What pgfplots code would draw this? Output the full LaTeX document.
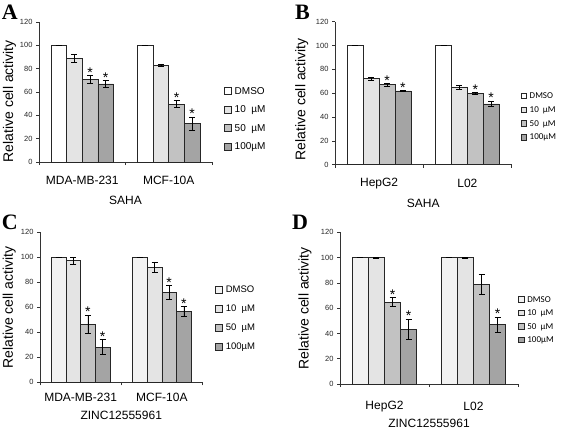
\documentclass[border=0pt]{standalone}
\usepackage{fontspec}
\setmainfont{Liberation Sans}
\newfontfamily\serifb{Liberation Serif}
\newfontfamily\calib{Carlito}
\usepackage{pgfplots}
\pgfplotsset{compat=1.18}
\usepackage{pgfplotstable}

% columns: group, then value / error / significance mark for DMSO, 10uM, 50uM, 100uM
\pgfplotstableread{
g y0 e0 s0 y1 e1 s1 y2 e2 s2 y3 e3 s3
0 100 0.3 ~ 89.0 3.3 ~ 70.8 3.3 * 67.0 2.9 *
1 100 0.3 ~ 82.7 0.8 ~ 49.5 3.0 * 33.0 5.5 *
}\dataA
\pgfplotstableread{
g y0 e0 s0 y1 e1 s1 y2 e2 s2 y3 e3 s3
0 100 0 ~ 72.2 1.4 ~ 67.2 1.0 * 62.0 0.3 *
1 100 0 ~ 65.3 1.7 ~ 59.8 0.8 * 51.0 2.3 *
}\dataB
\pgfplotstableread{
g y0 e0 s0 y1 e1 s1 y2 e2 s2 y3 e3 s3
0 100 0.3 ~ 97.3 2.5 ~ 46.5 7.3 * 28.2 6.0 *
1 100 0.3 ~ 92.0 3.8 ~ 71.8 5.6 * 56.6 4.0 *
}\dataC
\pgfplotstableread{
g y0 e0 s0 y1 e1 s1 y2 e2 s2 y3 e3 s3
0 100 0 ~ 100 0.3 ~ 64.9 3.4 * 43.5 7.8 *
1 100 0 ~ 100 0.3 ~ 78.6 7.9 ~ 47.1 5.8 *
}\dataD

\definecolor{cA}{HTML}{FFFFFF}
\definecolor{cA2}{HTML}{F2F2F2}
\definecolor{cB}{HTML}{E4E4E4}
\definecolor{cC}{HTML}{C2C2C2}
\definecolor{cD}{HTML}{A4A4A4}

\pgfplotsset{
  panel/.style={
    scale only axis, anchor=south west,
    xmin=-0.5, xmax=1.5, ymin=0, ymax=120, enlargelimits=false,
    ytick={0,20,...,120},
    xtick={-0.5,0.5,1.5}, xticklabels={,,},
    axis x line*=bottom, axis y line*=left,
    tick align=outside, major tick length=3pt,
    axis line style={black!80, line width=0.6pt},
    every tick/.style={black!80, line width=0.6pt},
    ybar=0pt, bar width=0.18, clip=false,
    yticklabel style={font=\fontsize{7.5}{9}\selectfont, text=black!85},
    /pgf/number format/assume math mode=true,
    extra x ticks={0,1},
    ylabel={Relative cell activity},
    ylabel style={font=\fontsize{14}{16}\selectfont, anchor=center},
    xlabel style={font=\fontsize{12}{14}\selectfont, anchor=center},
    legend cell align=left,
  },
  bars/.style={draw=black!85, line width=0.6pt, fill=#1,
    error bars/y dir=both, error bars/y explicit,
    error bars/error bar style={black, line width=0.6pt},
    error bars/error mark options={rotate=90, black, line width=0.6pt, mark size=3pt}},
  star/.style 2 args={
    point meta=explicit symbolic,
    visualization depends on={\thisrow{e#1} \as \err},
    nodes near coords,
    every node near coord/.append style={anchor=south, inner sep=0pt,
      yshift=\err*#2-2, font=\fontsize{14}{14}\selectfont, text=black}},
}

\begin{document}
\begin{tikzpicture}
\useasboundingbox (0pt,0pt) rectangle (567pt,-429pt);

% ---------- Panel A ----------
\begin{axis}[panel, at={(39pt,-162pt)}, width=173pt, height=140pt,
  extra x tick labels={MDA-MB-231,MCF-10A},
  extra x tick style={major tick length=0pt,
    xticklabel style={anchor=center, yshift=-18pt, font=\fontsize{12}{14}\selectfont}},
  xlabel={SAHA},
  xlabel style={at={(axis description cs:0.5,0)}, yshift=-38pt},
  ylabel style={at={(axis description cs:-0.17,0.434)}},
  legend style={at={(1.069,0.307)}, anchor=west, draw=none, fill=none,
    inner sep=0pt, row sep=6.5pt, column sep=2pt, font=\fontsize{10}{12}\selectfont,
    nodes={inner sep=1pt, text height=8pt, text depth=2pt}},
  legend image code/.code={\draw[#1, line width=0.6pt, draw=black!85] (0pt,-3.5pt) rectangle (7pt,3.5pt);},
]
\addplot[bars=cA, star={0}{1.1667}] table[x=g, y=y0, y error=e0, meta=s0] {\dataA};
\addplot[bars=cB, star={1}{1.1667}] table[x=g, y=y1, y error=e1, meta=s1] {\dataA};
\addplot[bars=cC, star={2}{1.1667}] table[x=g, y=y2, y error=e2, meta=s2] {\dataA};
\addplot[bars=cD, star={3}{1.1667}] table[x=g, y=y3, y error=e3, meta=s3] {\dataA};
\legend{DMSO, 10\ \ µM, 50\ \ µM, 100µM}
\end{axis}

% ---------- Panel B ----------
\begin{axis}[panel, at={(335pt,-164.7pt)}, width=176.5pt, height=143pt,
  extra x tick labels={HepG2,L02},
  extra x tick style={major tick length=0pt,
    xticklabel style={anchor=center, yshift=-18.6pt, font=\fontsize{12}{14}\selectfont}},
  xlabel={SAHA},
  xlabel style={at={(axis description cs:0.5,0)}, yshift=-38.6pt},
  ylabel style={at={(axis description cs:-0.189,0.458)}},
  legend style={at={(1.05,0.337)}, anchor=west, draw=none, fill=none,
    inner sep=0pt, row sep=3.2pt, column sep=2pt, font=\calib\fontsize{9}{10}\selectfont,
    nodes={inner sep=1pt, text height=7pt, text depth=1.5pt}},
  legend image code/.code={\draw[#1, line width=0.6pt, draw=black!85] (0pt,-2.8pt) rectangle (5.6pt,2.8pt);},
]
\addplot[bars=cA, star={0}{1.1917}] table[x=g, y=y0, y error=e0, meta=s0] {\dataB};
\addplot[bars=cB, star={1}{1.1917}] table[x=g, y=y1, y error=e1, meta=s1] {\dataB};
\addplot[bars=cC, star={2}{1.1917}] table[x=g, y=y2, y error=e2, meta=s2] {\dataB};
\addplot[bars=cD, star={3}{1.1917}] table[x=g, y=y3, y error=e3, meta=s3] {\dataB};
\legend{DMSO, 10\ \ µM, 50\ \ µM, 100µM}
\end{axis}

% ---------- Panel C ----------
\begin{axis}[panel, at={(40pt,-382.3pt)}, width=162.5pt, height=150pt,
  extra x tick labels={MDA-MB-231,MCF-10A},
  extra x tick style={major tick length=0pt,
    xticklabel style={anchor=center, yshift=-15.4pt, font=\fontsize{12}{14}\selectfont}},
  xlabel={ZINC12555961},
  xlabel style={at={(axis description cs:0.5,0)}, yshift=-32.7pt},
  ylabel style={at={(axis description cs:-0.189,0.499)}},
  legend style={at={(1.077,0.425)}, anchor=west, draw=none, fill=none,
    inner sep=0pt, row sep=7.5pt, column sep=2pt, font=\fontsize{9.5}{11}\selectfont,
    nodes={inner sep=1pt, text height=7.5pt, text depth=2pt}},
  legend image code/.code={\draw[#1, line width=0.6pt, draw=black!85] (0pt,-3.5pt) rectangle (7pt,3.5pt);},
]
\addplot[bars=cA2, star={0}{1.25}] table[x=g, y=y0, y error=e0, meta=s0] {\dataC};
\addplot[bars=cB, star={1}{1.25}] table[x=g, y=y1, y error=e1, meta=s1] {\dataC};
\addplot[bars=cC, star={2}{1.25}] table[x=g, y=y2, y error=e2, meta=s2] {\dataC};
\addplot[bars=cD, star={3}{1.25}] table[x=g, y=y3, y error=e3, meta=s3] {\dataC};
\legend{DMSO, 10\ \ µM, 50\ \ µM, 100µM}
\end{axis}

% ---------- Panel D ----------
\begin{axis}[panel, at={(340pt,-384pt)}, width=178pt, height=151.6pt,
  extra x tick labels={HepG2,L02},
  extra x tick style={major tick length=0pt,
    xticklabel style={anchor=center, yshift=-22.7pt, font=\fontsize{12}{14}\selectfont}},
  xlabel={ZINC12555961},
  xlabel style={at={(axis description cs:0.5,0)}, yshift=-39.5pt},
  ylabel style={at={(axis description cs:-0.197,0.5)}},
  legend style={at={(1.0,0.425)}, anchor=west, draw=none, fill=none,
    inner sep=0pt, row sep=3pt, column sep=2pt, font=\calib\fontsize{9}{10}\selectfont,
    nodes={inner sep=1pt, text height=7pt, text depth=1.5pt}},
  legend image code/.code={\draw[#1, line width=0.6pt, draw=black!85] (0pt,-2.8pt) rectangle (5.6pt,2.8pt);},
]
\addplot[bars=cA2, star={0}{1.2633}] table[x=g, y=y0, y error=e0, meta=s0] {\dataD};
\addplot[bars=cB, star={1}{1.2633}] table[x=g, y=y1, y error=e1, meta=s1] {\dataD};
\addplot[bars=cC, star={2}{1.2633}] table[x=g, y=y2, y error=e2, meta=s2] {\dataD};
\addplot[bars=cD, star={3}{1.2633}] table[x=g, y=y3, y error=e3, meta=s3] {\dataD};
\legend{DMSO, 10\ \ µM, 50\ \ µM, 100µM}
\end{axis}

% panel letters
\node[anchor=north west, inner sep=0pt, font=\serifb\bfseries\fontsize{22}{22}\selectfont] at (1.7pt,-5pt) {A};
\node[anchor=north west, inner sep=0pt, font=\serifb\bfseries\fontsize{22}{22}\selectfont] at (295pt,-5pt) {B};
\node[anchor=north west, inner sep=0pt, font=\serifb\bfseries\fontsize{22}{22}\selectfont] at (1.7pt,-215pt) {C};
\node[anchor=north west, inner sep=0pt, font=\serifb\bfseries\fontsize{22}{22}\selectfont] at (292pt,-215pt) {D};
\end{tikzpicture}
\end{document}
